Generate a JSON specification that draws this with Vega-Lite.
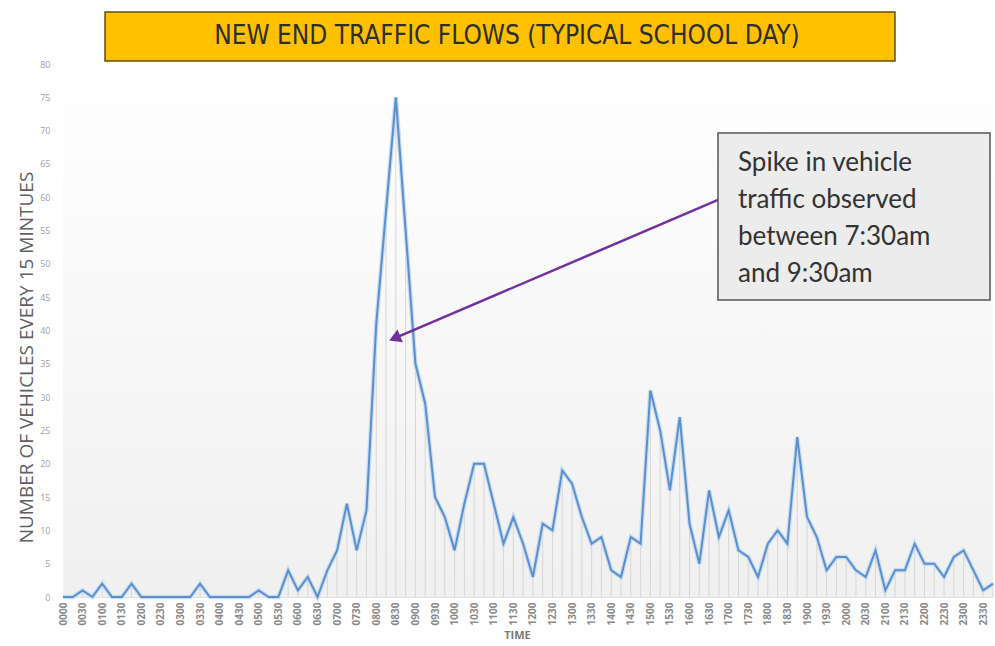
{
  "$schema": "https://vega.github.io/schema/vega-lite/v6.json",
  "autosize": {"type": "none"},
  "width": 930,
  "height": 533,
  "padding": {"left": 63, "top": 64, "right": 2, "bottom": 49},
  "background": "#ffffff",
  "config": {
    "view": {
      "stroke": null,
      "fill": {"gradient": "linear", "x1": 0, "y1": 0, "x2": 0, "y2": 1, "stops": [{"offset": 0, "color": "#ffffff"}, {"offset": 1, "color": "#f0f0f0"}]}
    },
    "font": "Open Sans",
    "axis": {"labelOverlap": false, "tickCount": 200}
  },
  "datasets": {
    "traffic": [
      {"time": "0000", "minute": 0, "vehicles": 0},
      {"time": "0015", "minute": 15, "vehicles": 0},
      {"time": "0030", "minute": 30, "vehicles": 1},
      {"time": "0045", "minute": 45, "vehicles": 0},
      {"time": "0100", "minute": 60, "vehicles": 2},
      {"time": "0115", "minute": 75, "vehicles": 0},
      {"time": "0130", "minute": 90, "vehicles": 0},
      {"time": "0145", "minute": 105, "vehicles": 2},
      {"time": "0200", "minute": 120, "vehicles": 0},
      {"time": "0215", "minute": 135, "vehicles": 0},
      {"time": "0230", "minute": 150, "vehicles": 0},
      {"time": "0245", "minute": 165, "vehicles": 0},
      {"time": "0300", "minute": 180, "vehicles": 0},
      {"time": "0315", "minute": 195, "vehicles": 0},
      {"time": "0330", "minute": 210, "vehicles": 2},
      {"time": "0345", "minute": 225, "vehicles": 0},
      {"time": "0400", "minute": 240, "vehicles": 0},
      {"time": "0415", "minute": 255, "vehicles": 0},
      {"time": "0430", "minute": 270, "vehicles": 0},
      {"time": "0445", "minute": 285, "vehicles": 0},
      {"time": "0500", "minute": 300, "vehicles": 1},
      {"time": "0515", "minute": 315, "vehicles": 0},
      {"time": "0530", "minute": 330, "vehicles": 0},
      {"time": "0545", "minute": 345, "vehicles": 4},
      {"time": "0600", "minute": 360, "vehicles": 1},
      {"time": "0615", "minute": 375, "vehicles": 3},
      {"time": "0630", "minute": 390, "vehicles": 0},
      {"time": "0645", "minute": 405, "vehicles": 4},
      {"time": "0700", "minute": 420, "vehicles": 7},
      {"time": "0715", "minute": 435, "vehicles": 14},
      {"time": "0730", "minute": 450, "vehicles": 7},
      {"time": "0745", "minute": 465, "vehicles": 13},
      {"time": "0800", "minute": 480, "vehicles": 41},
      {"time": "0815", "minute": 495, "vehicles": 58},
      {"time": "0830", "minute": 510, "vehicles": 75},
      {"time": "0845", "minute": 525, "vehicles": 55},
      {"time": "0900", "minute": 540, "vehicles": 35},
      {"time": "0915", "minute": 555, "vehicles": 29},
      {"time": "0930", "minute": 570, "vehicles": 15},
      {"time": "0945", "minute": 585, "vehicles": 12},
      {"time": "1000", "minute": 600, "vehicles": 7},
      {"time": "1015", "minute": 615, "vehicles": 14},
      {"time": "1030", "minute": 630, "vehicles": 20},
      {"time": "1045", "minute": 645, "vehicles": 20},
      {"time": "1100", "minute": 660, "vehicles": 14},
      {"time": "1115", "minute": 675, "vehicles": 8},
      {"time": "1130", "minute": 690, "vehicles": 12},
      {"time": "1145", "minute": 705, "vehicles": 8},
      {"time": "1200", "minute": 720, "vehicles": 3},
      {"time": "1215", "minute": 735, "vehicles": 11},
      {"time": "1230", "minute": 750, "vehicles": 10},
      {"time": "1245", "minute": 765, "vehicles": 19},
      {"time": "1300", "minute": 780, "vehicles": 17},
      {"time": "1315", "minute": 795, "vehicles": 12},
      {"time": "1330", "minute": 810, "vehicles": 8},
      {"time": "1345", "minute": 825, "vehicles": 9},
      {"time": "1400", "minute": 840, "vehicles": 4},
      {"time": "1415", "minute": 855, "vehicles": 3},
      {"time": "1430", "minute": 870, "vehicles": 9},
      {"time": "1445", "minute": 885, "vehicles": 8},
      {"time": "1500", "minute": 900, "vehicles": 31},
      {"time": "1515", "minute": 915, "vehicles": 25},
      {"time": "1530", "minute": 930, "vehicles": 16},
      {"time": "1545", "minute": 945, "vehicles": 27},
      {"time": "1600", "minute": 960, "vehicles": 11},
      {"time": "1615", "minute": 975, "vehicles": 5},
      {"time": "1630", "minute": 990, "vehicles": 16},
      {"time": "1645", "minute": 1005, "vehicles": 9},
      {"time": "1700", "minute": 1020, "vehicles": 13},
      {"time": "1715", "minute": 1035, "vehicles": 7},
      {"time": "1730", "minute": 1050, "vehicles": 6},
      {"time": "1745", "minute": 1065, "vehicles": 3},
      {"time": "1800", "minute": 1080, "vehicles": 8},
      {"time": "1815", "minute": 1095, "vehicles": 10},
      {"time": "1830", "minute": 1110, "vehicles": 8},
      {"time": "1845", "minute": 1125, "vehicles": 24},
      {"time": "1900", "minute": 1140, "vehicles": 12},
      {"time": "1915", "minute": 1155, "vehicles": 9},
      {"time": "1930", "minute": 1170, "vehicles": 4},
      {"time": "1945", "minute": 1185, "vehicles": 6},
      {"time": "2000", "minute": 1200, "vehicles": 6},
      {"time": "2015", "minute": 1215, "vehicles": 4},
      {"time": "2030", "minute": 1230, "vehicles": 3},
      {"time": "2045", "minute": 1245, "vehicles": 7},
      {"time": "2100", "minute": 1260, "vehicles": 1},
      {"time": "2115", "minute": 1275, "vehicles": 4},
      {"time": "2130", "minute": 1290, "vehicles": 4},
      {"time": "2145", "minute": 1305, "vehicles": 8},
      {"time": "2200", "minute": 1320, "vehicles": 5},
      {"time": "2215", "minute": 1335, "vehicles": 5},
      {"time": "2230", "minute": 1350, "vehicles": 3},
      {"time": "2245", "minute": 1365, "vehicles": 6},
      {"time": "2300", "minute": 1380, "vehicles": 7},
      {"time": "2315", "minute": 1395, "vehicles": 4},
      {"time": "2330", "minute": 1410, "vehicles": 1},
      {"time": "2345", "minute": 1425, "vehicles": 2}
    ],
    "titlebox": [{"x1": 64.4, "x2": 1274.8, "y1": 87.8, "y2": 80.45}],
    "titletext": [{"minute": 680.3, "vehicles": 84.2, "label": "NEW END TRAFFIC FLOWS (TYPICAL SCHOOL DAY)"}],
    "calloutbox": [{"x1": 1003.6, "x2": 1420.4, "y1": 69.64, "y2": 44.58}],
    "callouttext": [{"minute": 1034.3, "vehicles": 63.9, "label": "Spike in vehicle\ntraffic observed\nbetween 7:30am\nand 9:30am"}],
    "arrow": [{"x1": 1003.6, "y1": 59.6, "x2": 512, "y2": 39.0}],
    "arrowhead": [{"minute": 511, "vehicles": 38.95}]
  },
  "layer": [
    {
      "data": {"name": "titlebox"},
      "mark": {"type": "rect", "fill": "#FFC000", "stroke": "#5e4f00", "strokeWidth": 1.5},
      "encoding": {
        "x": {
          "field": "x1",
          "type": "quantitative",
          "scale": {"domain": [0, 1425], "nice": false, "zero": false},
          "axis": {
            "title": "TIME",
            "values": [0, 30, 60, 90, 120, 150, 180, 210, 240, 270, 300, 330, 360, 390, 420, 450, 480, 510, 540, 570, 600, 630, 660, 690, 720, 750, 780, 810, 840, 870, 900, 930, 960, 990, 1020, 1050, 1080, 1110, 1140, 1170, 1200, 1230, 1260, 1290, 1320, 1350, 1380, 1410],
            "tickCount": 200,
            "labelExpr": "timeFormat(datetime(2000, 0, 1, floor(datum.value / 60), datum.value % 60), '%H%M')",
            "labelAngle": 270,
            "labelFontSize": 10,
            "labelFontWeight": "bold",
            "labelColor": "#8a8a8a",
            "labelPadding": 5,
            "labelOverlap": false,
            "labelBound": false,
            "labelFlush": false,
            "ticks": false,
            "domain": true,
            "domainColor": "#e2e2e2",
            "domainWidth": 1,
            "grid": false,
            "titleFontSize": 11,
            "titleFontWeight": "bold",
            "titleColor": "#7a7a7a",
            "titlePadding": 5,
            "titleX": 454
          }
        },
        "x2": {"field": "x2"},
        "y": {
          "field": "y1",
          "type": "quantitative",
          "scale": {"domain": [0, 80], "nice": false},
          "axis": {
            "title": "NUMBER OF VEHICLES EVERY 15 MINTUES",
            "values": [0, 5, 10, 15, 20, 25, 30, 35, 40, 45, 50, 55, 60, 65, 70, 75, 80],
            "tickCount": 200,
            "format": "d",
            "labelFontSize": 9,
            "labelColor": "#a0a0a0",
            "labelPadding": 13,
            "labelOverlap": false,
            "ticks": false,
            "domain": false,
            "grid": false,
            "titleFontSize": 19,
            "titleFontWeight": "normal",
            "titleColor": "#5f5f5f",
            "titlePadding": 3,
            "titleY": 293
          }
        },
        "y2": {"field": "y2"}
      }
    },
    {
      "data": {"name": "titletext"},
      "mark": {"type": "text", "align": "center", "baseline": "middle", "font": "Liberation Sans Narrow, DejaVu Sans Condensed, Roboto Condensed, Open Sans", "fontSize": 26, "color": "#2e2e2e"},
      "encoding": {
        "x": {"field": "minute", "type": "quantitative"},
        "y": {"field": "vehicles", "type": "quantitative"},
        "text": {"field": "label"}
      }
    },
    {
      "data": {"name": "traffic"},
      "mark": {"type": "rule", "color": "#d6d6d6", "strokeWidth": 1},
      "encoding": {
        "x": {"field": "minute", "type": "quantitative"},
        "y": {"field": "vehicles", "type": "quantitative"},
        "y2": {"datum": 0}
      }
    },
    {
      "data": {"name": "traffic"},
      "mark": {"type": "line", "color": "#c9ddf2", "strokeWidth": 4.5},
      "encoding": {
        "x": {"field": "minute", "type": "quantitative"},
        "y": {"field": "vehicles", "type": "quantitative"}
      }
    },
    {
      "data": {"name": "traffic"},
      "mark": {"type": "line", "color": "#5b8fcc", "strokeWidth": 2},
      "encoding": {
        "x": {"field": "minute", "type": "quantitative"},
        "y": {"field": "vehicles", "type": "quantitative"}
      }
    },
    {
      "data": {"name": "arrow"},
      "mark": {"type": "rule", "color": "#7030a0", "strokeWidth": 2.5},
      "encoding": {
        "x": {"field": "x1", "type": "quantitative"},
        "y": {"field": "y1", "type": "quantitative"},
        "x2": {"field": "x2"},
        "y2": {"field": "y2"}
      }
    },
    {
      "data": {"name": "arrowhead"},
      "mark": {"type": "point", "shape": "triangle", "filled": true, "color": "#7030a0", "opacity": 1, "size": 190, "angle": 247},
      "encoding": {
        "x": {"field": "minute", "type": "quantitative"},
        "y": {"field": "vehicles", "type": "quantitative"}
      }
    },
    {
      "data": {"name": "calloutbox"},
      "mark": {"type": "rect", "fill": "#ececec", "stroke": "#555555", "strokeWidth": 1.5},
      "encoding": {
        "x": {"field": "x1", "type": "quantitative"},
        "x2": {"field": "x2"},
        "y": {"field": "y1", "type": "quantitative"},
        "y2": {"field": "y2"}
      }
    },
    {
      "data": {"name": "callouttext"},
      "mark": {"type": "text", "align": "left", "baseline": "alphabetic", "lineBreak": "\n", "lineHeight": 37, "font": "Lato", "fontSize": 26, "color": "#333333"},
      "encoding": {
        "x": {"field": "minute", "type": "quantitative"},
        "y": {"field": "vehicles", "type": "quantitative"},
        "text": {"field": "label"}
      }
    }
  ]
}
